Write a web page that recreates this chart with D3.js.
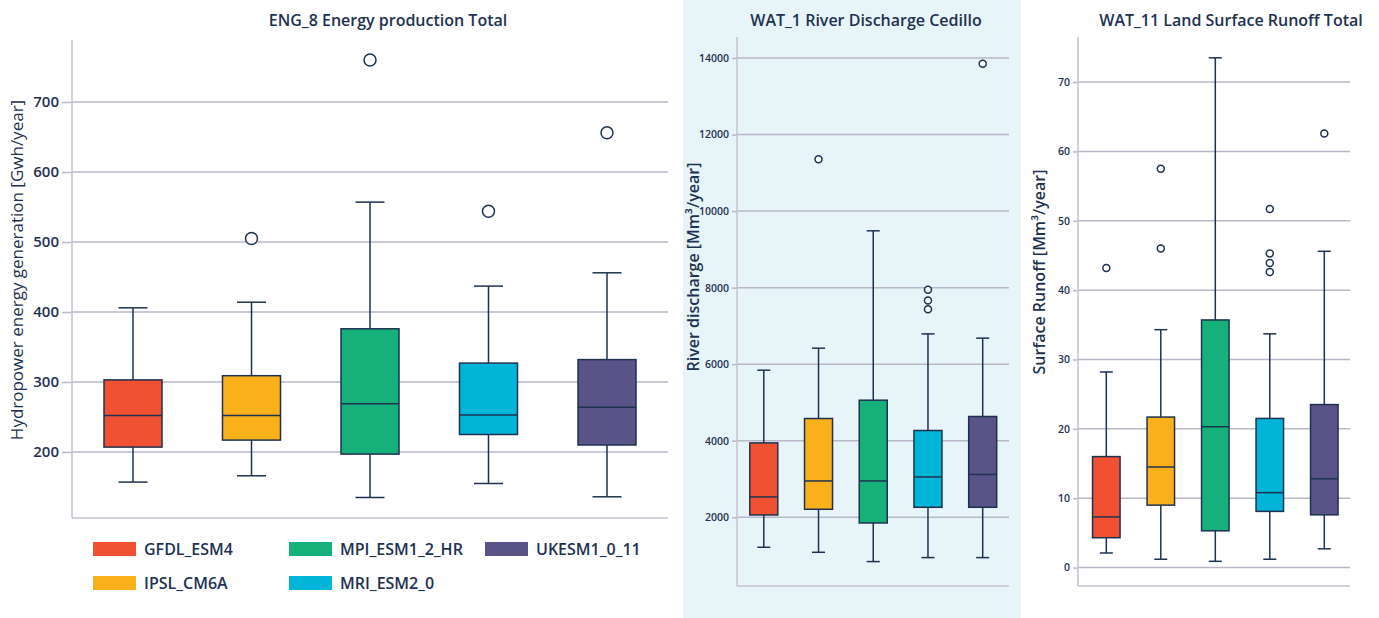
<!DOCTYPE html>
<html>
<head>
<meta charset="utf-8">
<script src="https://cdn.jsdelivr.net/npm/d3@7"></script>
<style>
  body { margin: 0; background: #fff; }
  text { font-family: "Open Sans", sans-serif; fill: #1e3250; }
</style>
</head>
<body>
<div id="chart"></div>
<script>
const models = ["GFDL_ESM4", "IPSL_CM6A", "MPI_ESM1_2_HR", "MRI_ESM2_0", "UKESM1_0_11"];
const colors = ["#f05133", "#fab01b", "#16b17a", "#00b5d8", "#5a5387"];

// [lower whisker, q1, median, q3, upper whisker]
const engStats = [
  [157, 207, 252, 303, 406],
  [166, 217, 252, 309, 414],
  [135, 197, 269, 376, 557],
  [155, 225, 253, 327, 437],
  [136, 210, 264, 332, 456]
];
const engOutliers = [[], [505], [760], [544], [656]];

const watStats = [
  [1216, 2060, 2531, 3943, 5843],
  [1085, 2209, 2949, 4580, 6418],
  [842, 1851, 2949, 5059, 9485],
  [946, 2261, 3054, 4267, 6792],
  [946, 2261, 3118, 4633, 6680]
];
const watOutliers = [[], [11352], [], [7942, 7665, 7438], [13851]];

const runStats = [
  [2.1, 4.3, 7.3, 16.0, 28.2],
  [1.2, 9.0, 14.5, 21.7, 34.3],
  [0.9, 5.3, 20.3, 35.7, 73.5],
  [1.2, 8.1, 10.8, 21.5, 33.7],
  [2.7, 7.6, 12.8, 23.5, 45.6]
];
const runOutliers = [[43.2], [57.5, 46.0], [], [51.7, 45.3, 43.9, 42.6], [62.6]];

const engTicks = [200, 300, 400, 500, 600, 700];
const watTicks = [2000, 4000, 6000, 8000, 10000, 12000, 14000];
const runTicks = [0, 10, 20, 30, 40, 50, 60, 70];

const W = 1379, H = 618;
const ink = "#1e3250", grid = "#b9b8c9";

const svg = d3.select("#chart").append("svg")
  .attr("width", W).attr("height", H);

// light background behind the middle panel
svg.append("rect").attr("x", 683).attr("y", 0).attr("width", 338).attr("height", H)
  .attr("fill", "#e7f4f8");

const panels = [
  { title: "ENG_8 Energy production Total", tx: 388,
    ylabel: "Hydropower energy generation [Gwh/year]", lx: 17, ly: 270, lsize: 17, lw: 500,
    stats: engStats, outliers: engOutliers, ticks: engTicks,
    domain: [105.7, 788.6], left: 72, right: 668, top: 40, bottom: 518,
    xr: [133, 607], bw: 58, cap: 29, r: 6, tsize: 15, tlen: 10 },
  { title: "WAT_1 River Discharge Cedillo", tx: 866,
    ylabel: "River discharge [Mm³/year]", lx: 693, ly: 267, lsize: 16, lw: 600,
    stats: watStats, outliers: watOutliers, ticks: watTicks,
    domain: [204, 14549], left: 737, right: 1009, top: 37, bottom: 586,
    xr: [763.8, 982.7], bw: 28, cap: 13, r: 3.5, tsize: 10.5, tlen: 5 },
  { title: "WAT_11 Land Surface Runoff Total", tx: 1231,
    ylabel: "Surface Runoff [Mm³/year]", lx: 1039, ly: 272, lsize: 16, lw: 600,
    stats: runStats, outliers: runOutliers, ticks: runTicks,
    domain: [-2.66, 76.5], left: 1078, right: 1350, top: 37, bottom: 586,
    xr: [1106.3, 1324.3], bw: 27.5, cap: 13, r: 3.5, tsize: 10.5, tlen: 5 }
];

panels.forEach(p => {
  const g = svg.append("g");
  const y = d3.scaleLinear().domain(p.domain).range([p.bottom, p.top]);
  const x = d3.scalePoint().domain(models).range(p.xr);

  // gridlines + tick labels
  const yAxis = g.append("g")
    .attr("transform", `translate(${p.left},0)`)
    .call(d3.axisLeft(y).tickValues(p.ticks).tickSize(p.tlen).tickPadding(3).tickFormat(d3.format("d")));
  yAxis.select(".domain").remove();
  yAxis.selectAll(".tick line").attr("stroke", grid).attr("stroke-width", 1.5);
  yAxis.selectAll(".tick text")
    .style("font-family", "'Open Sans', sans-serif")
    .style("font-weight", 600)
    .style("font-size", p.tsize + "px")
    .attr("fill", ink);

  g.append("g").selectAll("line").data(p.ticks).join("line")
    .attr("x1", p.left).attr("x2", p.right)
    .attr("y1", d => y(d)).attr("y2", d => y(d))
    .attr("stroke", grid).attr("stroke-width", 1.5);

  // axis lines
  g.append("line").attr("x1", p.left).attr("x2", p.left).attr("y1", p.top).attr("y2", p.bottom)
    .attr("stroke", "#c4c3d0").attr("stroke-width", 1.5);
  g.append("line").attr("x1", p.left).attr("x2", p.right).attr("y1", p.bottom).attr("y2", p.bottom)
    .attr("stroke", "#c4c3d0").attr("stroke-width", 1.5);

  // boxes
  const box = g.append("g").selectAll("g").data(p.stats).join("g")
    .attr("transform", (d, i) => `translate(${x(models[i])},0)`);

  box.append("line")
    .attr("y1", d => y(d[0])).attr("y2", d => y(d[4]))
    .attr("stroke", ink).attr("stroke-width", 1.5);
  box.selectAll(".cap").data(d => [d[0], d[4]]).join("line")
    .attr("x1", -p.cap / 2).attr("x2", p.cap / 2)
    .attr("y1", d => y(d)).attr("y2", d => y(d))
    .attr("stroke", ink).attr("stroke-width", 1.5);
  box.append("rect")
    .attr("x", -p.bw / 2).attr("width", p.bw)
    .attr("y", d => y(d[3])).attr("height", d => y(d[1]) - y(d[3]))
    .attr("fill", (d, i) => colors[i])
    .attr("stroke", ink).attr("stroke-width", 1.5);
  box.append("line")
    .attr("x1", -p.bw / 2).attr("x2", p.bw / 2)
    .attr("y1", d => y(d[2])).attr("y2", d => y(d[2]))
    .attr("stroke", ink).attr("stroke-width", 1.5);

  box.selectAll("circle").data((d, i) => p.outliers[i]).join("circle")
    .attr("cy", d => y(d)).attr("r", p.r)
    .attr("fill", "#fff").attr("stroke", ink).attr("stroke-width", 1.5);

  // titles
  svg.append("text").attr("x", p.tx).attr("y", 26)
    .attr("text-anchor", "middle")
    .style("font-size", "16px").style("font-weight", 600)
    .text(p.title);
  svg.append("text")
    .attr("transform", `translate(${p.lx},${p.ly}) rotate(-90)`)
    .attr("text-anchor", "middle").attr("dy", "0.35em")
    .style("font-size", p.lsize + "px").style("font-weight", p.lw)
    .text(p.ylabel);
});

// legend, laid out column-first in two rows
const legend = svg.append("g");
const legX = [93, 289, 485], legY = [542, 576];
models.forEach((m, i) => {
  const col = Math.floor(i / 2), row = i % 2;
  const lg = legend.append("g").attr("transform", `translate(${legX[col]},${legY[row]})`);
  lg.append("rect").attr("width", 43).attr("height", 14).attr("fill", colors[i]);
  lg.append("text").attr("x", 51).attr("y", 7).attr("dy", "0.35em")
    .style("font-size", "16px").style("font-weight", 600)
    .text(m);
});
</script>
</body>
</html>
